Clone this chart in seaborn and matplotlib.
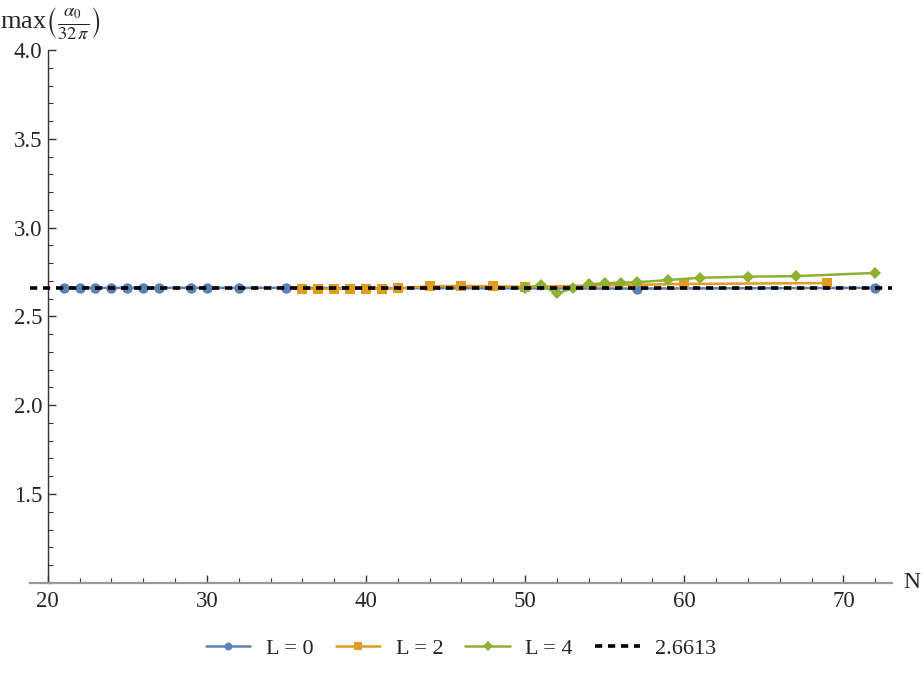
import matplotlib
matplotlib.use("Agg")
import matplotlib.pyplot as plt
from matplotlib.ticker import MultipleLocator
import pandas as pd
import seaborn as sns

# L = 0
n_l0 = [21, 22, 23, 24, 25, 26, 27, 29, 30, 32, 35, 57, 72]
v_l0 = [2.661, 2.661, 2.661, 2.661, 2.661, 2.661, 2.661, 2.661, 2.661, 2.661, 2.661, 2.657, 2.661]

# L = 2
n_l2 = [36, 37, 38, 39, 40, 41, 42, 44, 46, 48, 50, 60, 69]
v_l2 = [2.656, 2.656, 2.656, 2.656, 2.656, 2.657, 2.658, 2.670, 2.672, 2.670, 2.667, 2.683, 2.688]

# L = 4
n_l4 = [50, 51, 52, 53, 54, 55, 56, 57, 59, 61, 64, 67, 72]
v_l4 = [2.658, 2.675, 2.630, 2.658, 2.680, 2.687, 2.690, 2.692, 2.705, 2.718, 2.724, 2.727, 2.745]

ref_value = 2.6613

series = [
    ("L = 0", n_l0, v_l0, "#5E81B5", "o", 7.5),
    ("L = 2", n_l2, v_l2, "#E19C24", "s", 7.5),
    ("L = 4", n_l4, v_l4, "#8FB032", "D", 6.5),
]

sns.set_style("ticks")
plt.rcParams["font.family"] = ["Liberation Serif", "DejaVu Serif"]
plt.rcParams["mathtext.fontset"] = "stix"

fig = plt.figure(figsize=(9.22, 6.76), dpi=100)
ax = fig.add_axes([0.0328, 0.1379, 0.9344, 0.788])

for label, n, v, color, marker, ms in series:
    df = pd.DataFrame({"N": n, "value": v})
    sns.lineplot(data=df, x="N", y="value", ax=ax, color=color, marker=marker,
                 markersize=ms, markeredgewidth=0, linewidth=1.8, label=label)

# reference value drawn on top of the data
ax.axhline(ref_value, color="black", linestyle=(0, (2, 1.6)), linewidth=2.6,
           label="2.6613", zorder=5)

ax.set_xlim(18.9, 73.04)
ax.set_ylim(1.0, 4.0)
ax.xaxis.set_major_locator(MultipleLocator(10))
ax.xaxis.set_minor_locator(MultipleLocator(2))
ax.yaxis.set_major_locator(MultipleLocator(0.5))
ax.yaxis.set_minor_locator(MultipleLocator(0.1))
ax.set_yticks([1.5, 2.0, 2.5, 3.0, 3.5, 4.0])
ax.set_yticklabels(["1.5", "2.0", "2.5", "3.0", "3.5", "4.0"])

ax.spines["top"].set_visible(False)
ax.spines["right"].set_visible(False)
ax.spines["left"].set_position(("data", 20))
ax.spines["left"].set_color("#333333")
ax.spines["bottom"].set_color("#999999")
ax.spines["left"].set_linewidth(1.0)
ax.spines["bottom"].set_linewidth(1.6)

ax.tick_params(axis="both", which="major", direction="in", length=6, width=1.0,
               color="#333333", labelsize=16.5, pad=6)
ax.tick_params(axis="both", which="minor", direction="in", length=3.5, width=0.8,
               color="#333333")
ax.tick_params(axis="y", pad=4)

ax.set_xlabel("")
ax.set_ylabel("")
fig.text(0.989, 0.138, "N", fontsize=17, ha="center", va="center")
fig.text(0.0, 0.966, r"max$\left(\frac{\alpha_0}{32\,\pi}\right)$", fontsize=19,
         ha="left", va="center")

handles, labels = ax.get_legend_handles_labels()
ax.legend(handles, labels, loc="center", bbox_to_anchor=(0.5, 0.04),
          bbox_transform=fig.transFigure, ncol=4, frameon=False, fontsize=16,
          handlelength=2.0, columnspacing=1.0, handletextpad=0.7, markerscale=0.75)

fig.savefig("out.png", dpi=100)
